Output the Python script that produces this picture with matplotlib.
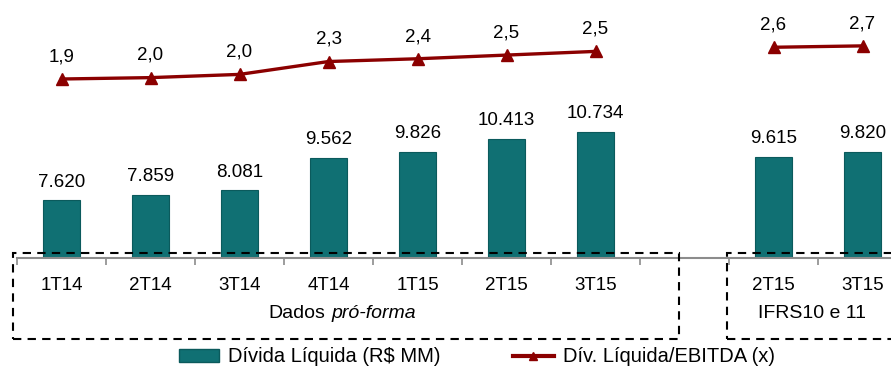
import matplotlib
matplotlib.use('Agg')
import matplotlib.pyplot as plt
import numpy as np
from matplotlib.patches import Patch, Rectangle
from matplotlib.lines import Line2D

plt.rcParams['font.family'] = ['Liberation Sans', 'DejaVu Sans']

# dados
trimestres = ['1T14', '2T14', '3T14', '4T14', '1T15', '2T15', '3T15', '', '2T15', '3T15']
divida_liquida = [7620, 7859, 8081, 9562, 9826, 10413, 10734, None, 9615, 9820]
div_ebitda = [1.94, 1.97, 2.04, 2.32, 2.38, 2.46, 2.54, None, 2.63, 2.66]
grupos = ['Dados', 'pró-forma', 'IFRS10 e 11']

W, H = 891, 373
fig = plt.figure(figsize=(W / 100, H / 100), dpi=100)

def fx(px):
    return px / W

def fy(py):
    return 1 - py / H

ax = fig.add_axes([fx(17), fy(258), fx(891 - 17), (258 - 10) / H])
ax2 = ax.twinx()

x = np.arange(len(trimestres))
verde = '#107073'
vermelho = '#8b0000'

for i, v in enumerate(divida_liquida):
    if v is None:
        continue
    ax.bar(x[i], v - 5000, bottom=5000, width=0.42, color=verde,
           edgecolor='#0b5a5c', linewidth=0.8, zorder=2)
    ax.annotate(f"{v:,}".replace(',', '.'), (x[i], v), xytext=(0, 7),
                textcoords='offset points', ha='center', va='bottom', fontsize=13.5)

yl = np.array([np.nan if v is None else v for v in div_ebitda], dtype=float)
ax2.plot(x, yl, color=vermelho, lw=2.4, marker='^', markersize=8, zorder=3)
for i, v in enumerate(div_ebitda):
    if v is None:
        continue
    ax2.annotate(f"{v:.1f}".replace('.', ','), (x[i], v), xytext=(0, 16),
                 textcoords='offset points', ha='center', va='center', fontsize=13.5)

for a in (ax, ax2):
    for s in ['top', 'right', 'left']:
        a.spines[s].set_visible(False)
    a.set_yticks([])
ax2.spines['bottom'].set_visible(False)
ax.spines['bottom'].set_color('#8c8c8c')
ax.spines['bottom'].set_linewidth(1.5)

ax.set_xticks(x)
ax.set_xticklabels(trimestres, fontsize=13.5)
ax.tick_params(axis='x', which='major', length=0, pad=14)
ax.set_xticks(np.arange(-0.5, 10, 1), minor=True)
ax.tick_params(axis='x', which='minor', length=5, width=1.2, color='#8c8c8c', direction='out')

ax.set_xlim(-0.5, 9.32)
ax.set_ylim(5000, 5000 + 248 * 45.5)
ax2.set_ylim(1.94 - 179 / 46, 1.94 + 69 / 46)

# caixas tracejadas
for x0, x1 in [(13, 679), (727, 905)]:
    r = Rectangle((fx(x0), fy(339)), fx(x1 - x0), (339 - 253) / H, transform=fig.transFigure,
                  fill=False, edgecolor='black', linewidth=1.5, linestyle=(0, (4, 3)),
                  zorder=10, clip_on=False)
    fig.add_artist(r)

fig.text(fx(325), fy(313), grupos[0], ha='right', va='center', fontsize=14)
fig.text(fx(331), fy(313), grupos[1], ha='left', va='center', fontsize=14, style='italic')
fig.text(fx(812), fy(313), grupos[2], ha='center', va='center', fontsize=14)

handles = [Patch(facecolor=verde, edgecolor='#0b5a5c'),
           Line2D([0], [0], color=vermelho, lw=3, marker='^', markersize=6)]
fig.legend(handles, ['Dívida Líquida (R$ MM)', 'Dív. Líquida/EBITDA (x)'],
           loc='center left', bbox_to_anchor=(fx(179), fy(357)), ncol=2, frameon=False,
           fontsize=14.5, handlelength=2.0, handleheight=0.6, handletextpad=0.45,
           columnspacing=3.6, borderpad=0, borderaxespad=0)

fig.savefig('out.png', dpi=100)
